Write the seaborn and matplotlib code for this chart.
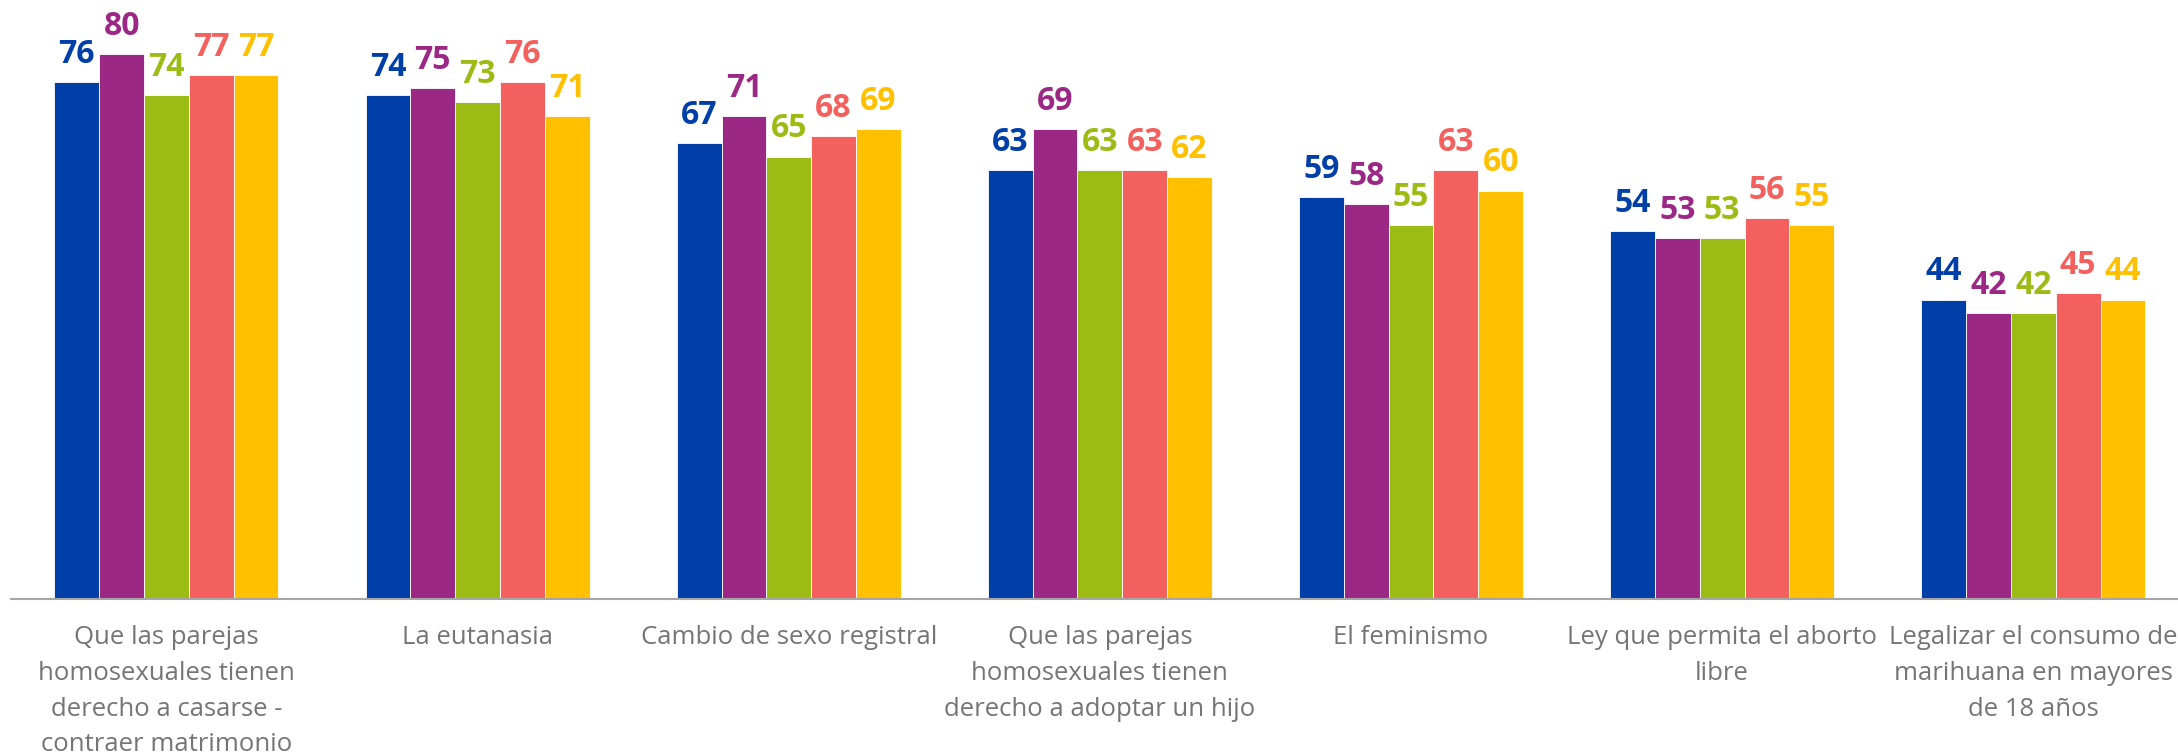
import pandas as pd
import numpy as np
import matplotlib
matplotlib.use('Agg')
import matplotlib.pyplot as plt
import seaborn as sns

sns.set_theme(style='white')
plt.rcParams['font.family'] = ['Open Sans', 'DejaVu Sans']

# data
categorias = ['Que las parejas\nhomosexuales tienen\nderecho a casarse -\ncontraer matrimonio',
              'La eutanasia',
              'Cambio de sexo registral',
              'Que las parejas\nhomosexuales tienen\nderecho a adoptar un hijo',
              'El feminismo',
              'Ley que permita el aborto\nlibre',
              'Legalizar el consumo de\nmarihuana en mayores\nde 18 años']
series = ['Serie 1', 'Serie 2', 'Serie 3', 'Serie 4', 'Serie 5']
serie1 = [76, 74, 67, 63, 59, 54, 44]
serie2 = [80, 75, 71, 69, 58, 53, 42]
serie3 = [74, 73, 65, 63, 55, 53, 42]
serie4 = [77, 76, 68, 63, 63, 56, 45]
serie5 = [77, 71, 69, 62, 60, 55, 44]
colores = ['#003FA7', '#9C2886', '#9CBC15', '#F3605D', '#FFC000']

valores = [serie1, serie2, serie3, serie4, serie5]
df = pd.DataFrame({
    'categoria': categorias * len(series),
    'serie': np.repeat(series, len(categorias)),
    'valor': np.concatenate(valores),
})

fig = plt.figure(figsize=(21.78, 7.56), dpi=100)
ax = fig.add_axes([0.005, 157 / 756, 1.0, 599 / 756])

sns.barplot(data=df, x='categoria', y='valor', hue='serie', order=categorias,
            hue_order=series, palette=colores, width=0.72, gap=0,
            saturation=1, linewidth=0.6, edgecolor='white', legend=False, ax=ax)

# value labels in the colour of each series
for cont, col in zip(ax.containers, colores):
    ax.bar_label(cont, fmt='%.0f', padding=8, color=col, fontsize=23,
                 fontweight='bold')

ax.set_xlim(-0.5, 6.5)
ax.set_ylim(0, 88)
ax.set_xlabel('')
ax.set_ylabel('')
ax.set_yticks([])
for s in ['top', 'right', 'left']:
    ax.spines[s].set_visible(False)
ax.spines['bottom'].set_color('#A6A6A6')
ax.spines['bottom'].set_linewidth(1.5)
ax.tick_params(axis='x', length=0, pad=19, labelsize=18.5, labelcolor='#757575')
for lbl in ax.get_xticklabels():
    lbl.set_linespacing(1.56)

fig.savefig('out.png', dpi=100)
